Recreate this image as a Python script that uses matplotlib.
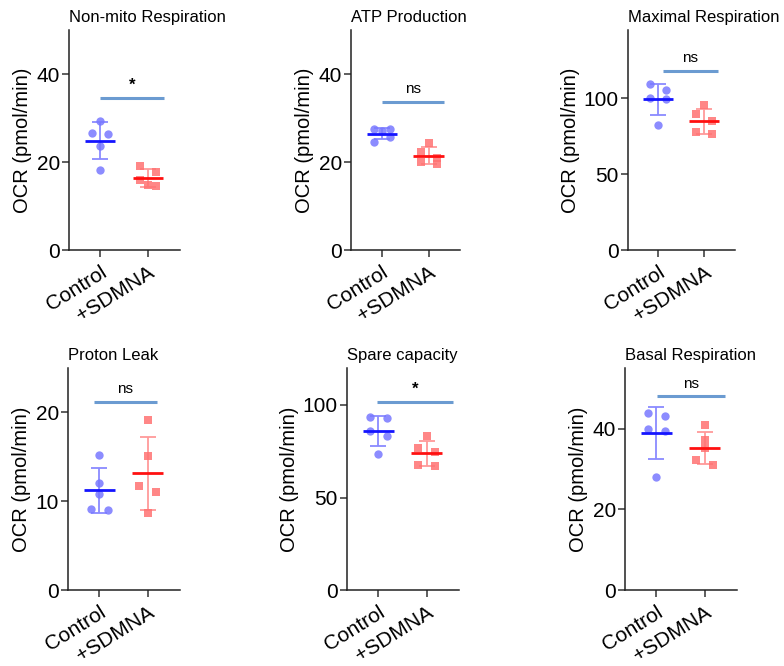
import matplotlib

matplotlib.use('Agg')
import matplotlib.pyplot as plt
import numpy as np

plt.rcParams['font.family'] = ['Liberation Sans', 'DejaVu Sans']

groups = ["Control", "+SDMNA"]
titles = ["Non-mito Respiration", "ATP Production", "Maximal Respiration",
          "Proton Leak", "Spare capacity", "Basal Respiration"]

control_vals = [
    [29.4, 26.7, 26.4, 23.7, 18.2],
    [27.6, 27.4, 27.0, 25.6, 24.6],
    [109.5, 105.5, 100.0, 99.5, 82.5],
    [15.2, 12.0, 10.8, 9.1, 9.0],
    [93.3, 93.2, 86.1, 83.2, 73.5],
    [43.9, 43.0, 40.0, 39.5, 28.1],
]
sdmna_vals = [
    [19.2, 17.8, 15.9, 14.8, 14.5],
    [24.4, 22.3, 20.9, 19.9, 19.6],
    [95.5, 89.5, 85.0, 77.5, 76.5],
    [19.2, 15.1, 11.7, 11.0, 8.7],
    [83.5, 76.5, 74.5, 67.5, 67.0],
    [40.8, 37.1, 35.2, 32.1, 31.0],
]
y_max = [50, 50, 145, 25, 120, 55]
y_ticks = [[0, 20, 40], [0, 20, 40], [0, 50, 100], [0, 10, 20], [0, 50, 100], [0, 20, 40]]
sig_labels = ["*", "ns", "ns", "ns", "*", "ns"]
sig_height = [34.5, 33.7, 118, 21.2, 101.4, 48.0]
sig_span = [(0.0, 1.33), (0.02, 1.33), (0.1, 1.3), (-0.12, 1.2), (-0.02, 1.55), (0.01, 1.43)]

# axes boxes in pixels: left, top, right, bottom
boxes = [(69, 30, 180, 250), (351, 30, 460, 250), (628, 30, 735, 250),
         (68, 368, 180, 590), (347, 368, 459, 590), (625, 368, 737, 590)]

W, H = 784, 666
ctrl_pt, ctrl_mean, ctrl_err = "#7878ff", "#1414ff", "#8a8aff"
sd_pt, sd_mean, sd_err = "#ff7272", "#ff1010", "#ff9a9a"
sig_color = "#6b9bd1"


def swarm_offsets(vals, px_per_unit, diam=7.5, slot=0.17):
    # points closer than one marker get pushed sideways, at most one slot
    vals = np.asarray(vals, dtype=float)
    order = np.argsort(-vals)
    offs = np.zeros(len(vals))
    chains, cur = [], [order[0]]
    for a, b in zip(order[:-1], order[1:]):
        if (vals[a] - vals[b]) * px_per_unit < diam:
            cur.append(b)
        else:
            chains.append(cur)
            cur = [b]
    chains.append(cur)
    for ch in chains:
        n = len(ch)
        if n == 1:
            pos = [0]
        elif n == 3:
            pos = [-1, 0, 1]
        else:
            pos = [(-1) ** (k + 1) for k in range(n)]
            if n % 2:
                pos[n // 2] = 0
        for k, idx in enumerate(ch):
            offs[idx] = pos[k] * slot
    return offs


fig = plt.figure(figsize=(W / 100, H / 100), dpi=100)

for i in range(6):
    l, t, r, b = boxes[i]
    ax = fig.add_axes([l / W, 1 - b / H, (r - l) / W, (b - t) / H])
    ax.set_xlim(-0.65, 1.67)
    ax.set_ylim(0, y_max[i])
    px_per_unit = (b - t) / y_max[i]

    for x, vals, pc, mc, ec, mk, ms in [(0, control_vals[i], ctrl_pt, ctrl_mean, ctrl_err, 'o', 6),
                                         (1, sdmna_vals[i], sd_pt, sd_mean, sd_err, 's', 6)]:
        vals = np.asarray(vals)
        m, s = vals.mean(), vals.std(ddof=1)
        ax.errorbar([x], [m], yerr=[s], fmt='none', ecolor=ec, elinewidth=1.3,
                    capsize=5.5, capthick=1.3, zorder=2)
        ax.plot(x + swarm_offsets(vals, px_per_unit), vals, linestyle='none', marker=mk,
                markersize=ms, color=pc, alpha=0.85, markeredgewidth=0, zorder=3)
        ax.hlines(m, x - 0.32, x + 0.32, color=mc, linewidth=2, zorder=4)

    x0, x1 = sig_span[i]
    ax.hlines(sig_height[i], x0, x1, color=sig_color, linewidth=2.2)
    star = sig_labels[i] == "*"
    ax.text((x0 + x1) / 2, sig_height[i] + y_max[i] * 0.025, sig_labels[i],
            ha='center', va='bottom', fontsize=12 if star else 11,
            fontweight='bold' if star else 'normal')

    ax.set_title(titles[i], loc='left', fontsize=12, pad=6)
    ax.set_yticks(y_ticks[i])
    ax.set_xticks([0, 1])
    ax.set_xticklabels(groups, rotation=32, ha='right', rotation_mode='anchor')
    ax.tick_params(axis='both', labelsize=15, length=5, width=1.1, color='#333333')
    ax.tick_params(axis='y', pad=1.5)
    ax.tick_params(axis='x', pad=4)
    ax.set_ylabel("OCR (pmol/min)", fontsize=14.5, labelpad=3)
    for sp in ['top', 'right']:
        ax.spines[sp].set_visible(False)
    for sp in ['left', 'bottom']:
        ax.spines[sp].set_linewidth(1.1)
        ax.spines[sp].set_color('#222222')

fig.savefig("out.png", dpi=100)
